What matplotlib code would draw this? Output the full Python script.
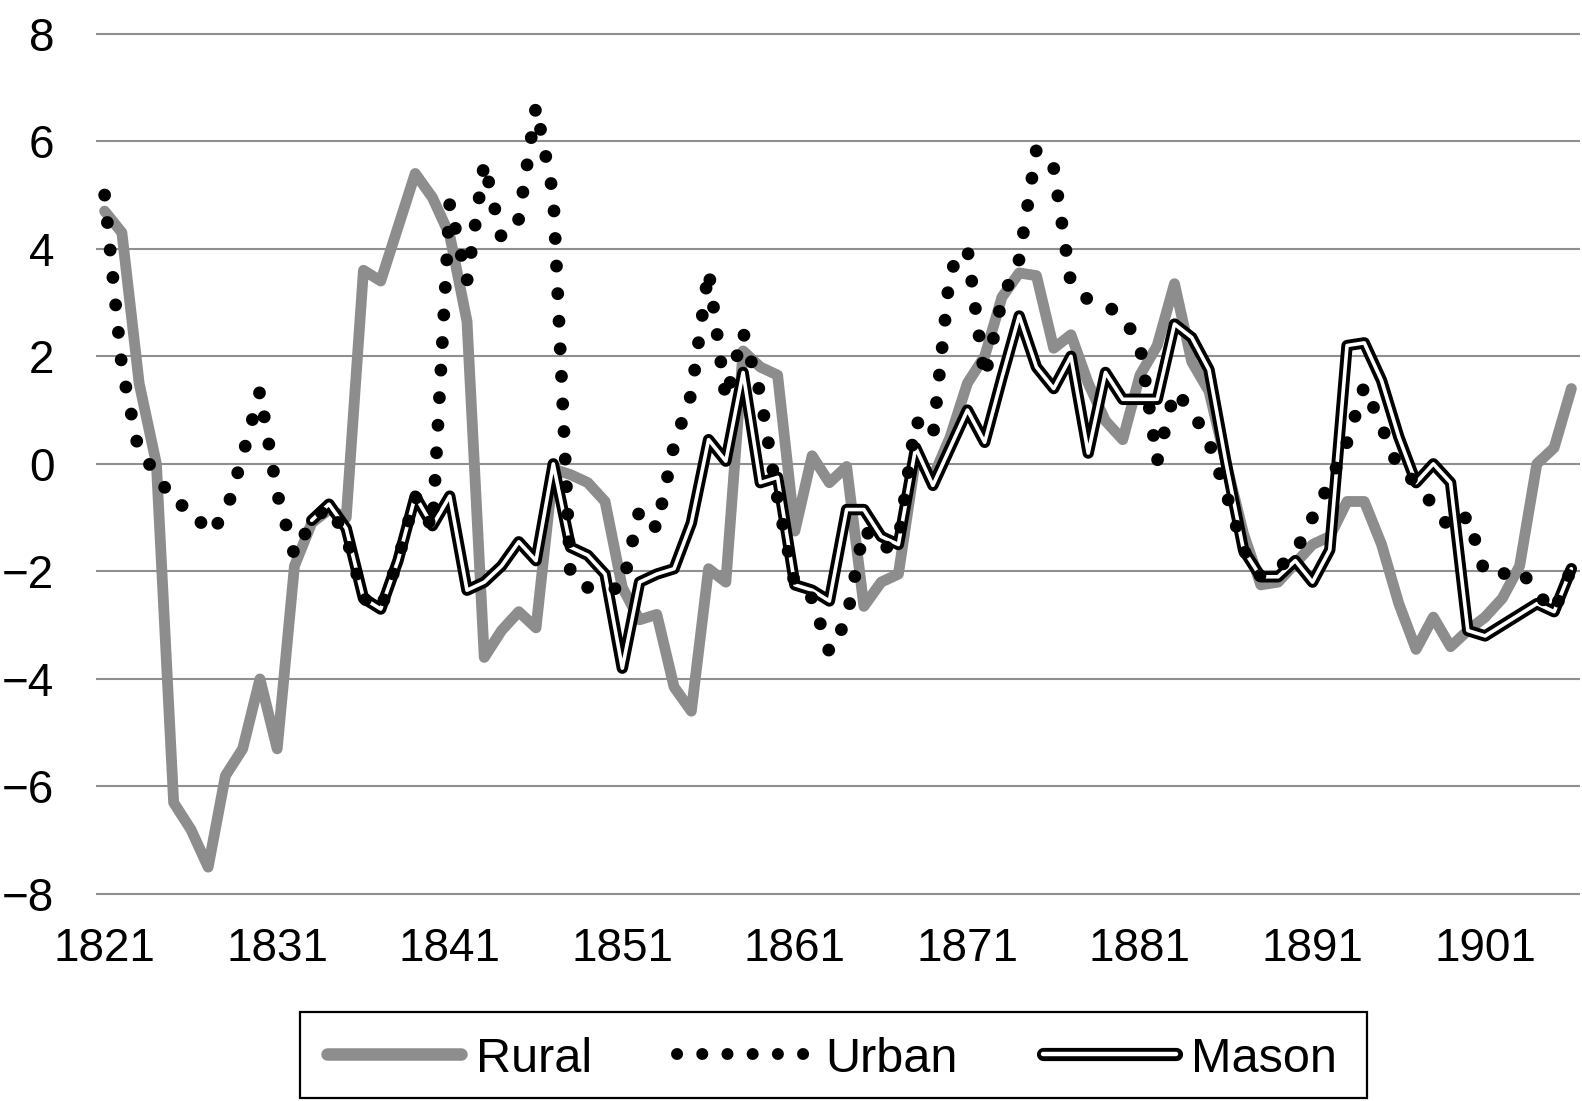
import matplotlib.pyplot as plt
import matplotlib.patheffects as pe
from matplotlib.lines import Line2D
from matplotlib.patches import Rectangle

plt.rcParams['font.family'] = ['Liberation Sans', 'DejaVu Sans']

nan = float('nan')

years = list(range(1821, 1907))

rural = [4.7, 4.3, 1.5, 0.0, -6.3, -6.8, -7.5, -5.8, -5.3, -4.0,
         -5.3, -1.9, -1.1, -0.85, -1.0, 3.6, 3.4, 4.4, 5.4, 4.95,
         4.25, 2.65, -3.6, -3.1, -2.75, -3.05, -0.1, -0.2, -0.35, -0.7,
         -2.3, -2.9, -2.8, -4.15, -4.6, -1.95, -2.2, 2.1, 1.8, 1.65,
         -1.25, 0.15, -0.35, -0.05, -2.65, -2.2, -2.05, 0.1, -0.25, 0.5,
         1.5, 2.0, 3.1, 3.55, 3.5, 2.15, 2.4, 1.5, 0.8, 0.45,
         1.65, 2.2, 3.35, 1.9, 1.35, 0.0, -1.3, -2.25, -2.2, -1.85,
         -1.5, -1.35, -0.7, -0.7, -1.5, -2.6, -3.45, -2.85, -3.4, -3.1,
         -2.85, -2.5, -1.9, 0.0, 0.3, 1.4]

urban = [5.0, 1.8, 0.2, -0.15, -0.75, -0.8, -1.3, -0.95, 0.15, 1.35,
         -0.55, -1.7, -1.05, -0.8, -1.35, -2.5, -2.7, -1.8, -0.6, -1.2,
         4.85, 3.4, 5.6, 4.2, 4.55, 6.65, 5.0, -2.1, -2.3, -2.35,
         -2.3, -0.85, -1.2, 0.35, 1.3, 3.6, 1.2, 2.45, 1.3, -0.65,
         -2.25, -2.5, -3.5, -2.9, -1.2, -1.6, -1.45, 0.8, 0.5, 3.6,
         4.0, 1.6, 3.05, 3.8, 5.85, 5.5, 3.35, 3.05, 2.95, 2.75,
         2.2, 0.05, 1.35, 1.0, 0.4, -0.55, -1.6, -2.1, -1.95, -1.65,
         -1.0, -0.35, 0.4, 1.45, 0.7, -0.1, -0.35, -0.78, -1.22, -0.97,
         -2.05, -2.05, -1.95, -2.4, -2.75, -1.95]

mason = [nan, nan, nan, nan, nan, nan, nan, nan, nan, nan,
         nan, nan, -1.05, -0.75, -1.2, -2.5, -2.7, -1.8, -0.6, -1.15,
         -0.6, -2.35, -2.2, -1.9, -1.45, -1.8, 0.0, -1.55, -1.7, -2.05,
         -3.8, -2.2, -2.05, -1.95, -1.1, 0.45, 0.05, 1.7, -0.35, -0.25,
         -2.25, -2.35, -2.55, -0.85, -0.85, -1.35, -1.5, 0.3, -0.4, 0.3,
         1.0, 0.4, 1.6, 2.75, 1.8, 1.4, 2.0, 0.2, 1.7, 1.2,
         1.2, 1.2, 2.6, 2.35, 1.75, 0.0, -1.6, -2.1, -2.1, -1.8,
         -2.2, -1.6, 2.2, 2.25, 1.55, 0.5, -0.35, 0.0, -0.35, -3.1,
         -3.2, -3.0, -2.8, -2.6, -2.75, -1.95]

x_ticks = [1821, 1831, 1841, 1851, 1861, 1871, 1881, 1891, 1901]
y_ticks = [-8, -6, -4, -2, 0, 2, 4, 6, 8]
labels = ['Rural', 'Urban', 'Mason']

W, H = 1582, 1101
fig = plt.figure(figsize=(W / 100, H / 100), dpi=100)
top_px, bot_px = 28.3, 899.4
ax = fig.add_axes([96 / W, 1 - bot_px / H, (1580 - 96) / W, (bot_px - top_px) / H])

gray = '#8d8d8d'
double = [pe.Stroke(linewidth=8.2, foreground='black'), pe.Normal()]

ax.plot(years, rural, color=gray, lw=7.8, solid_capstyle='round', solid_joinstyle='round', zorder=2)
ax.plot(years, mason, color='white', lw=2.6, solid_capstyle='round', solid_joinstyle='round',
        path_effects=double, zorder=3)
ax.plot(years, urban, color='black', lw=9.2, linestyle=(0, (0.01, 2.15)),
        dash_capstyle='round', zorder=4)

ax.set_xlim(1820.5, 1906.5)
ax.set_ylim(-8.1, 8.1)
ax.set_yticks(y_ticks)
ax.set_xticks(x_ticks)
ax.set_xticklabels([str(t) for t in x_ticks])
ax.set_yticklabels([str(t).replace('-', '\u2212') for t in y_ticks])
ax.grid(axis='y', color='#8f8f8f', lw=1.5)
ax.set_axisbelow(True)
for s in ax.spines.values():
    s.set_visible(False)
ax.tick_params(axis='both', length=0, labelsize=33)
ax.tick_params(axis='y', pad=30)
ax.tick_params(axis='x', pad=20)

# legend
h_rural = Line2D([], [], color=gray, lw=9, solid_capstyle='round')
h_urban = Line2D([], [], color='black', lw=8.6, linestyle=(0, (0.01, 2.1)), dash_capstyle='round')
h_mason = Line2D([], [], color='white', lw=3.2, solid_capstyle='round',
                 path_effects=[pe.Stroke(linewidth=9.5, foreground='black'), pe.Normal()])
fig.legend([h_rural, h_urban, h_mason], labels, loc='center',
           bbox_to_anchor=(832 / W, 1 - 1059 / H), ncol=3, frameon=False,
           handlelength=2.75, handletextpad=0.3, columnspacing=1.75,
           prop={'family': ['Liberation Sans Narrow', 'Liberation Sans'], 'size': 35})
fig.patches.append(Rectangle((300 / W, 1 - 1098 / H), (1367 - 300) / W, (1098 - 1012) / H,
                             transform=fig.transFigure, fill=False, ec='black', lw=1.6))

fig.savefig('out.png', dpi=100)
